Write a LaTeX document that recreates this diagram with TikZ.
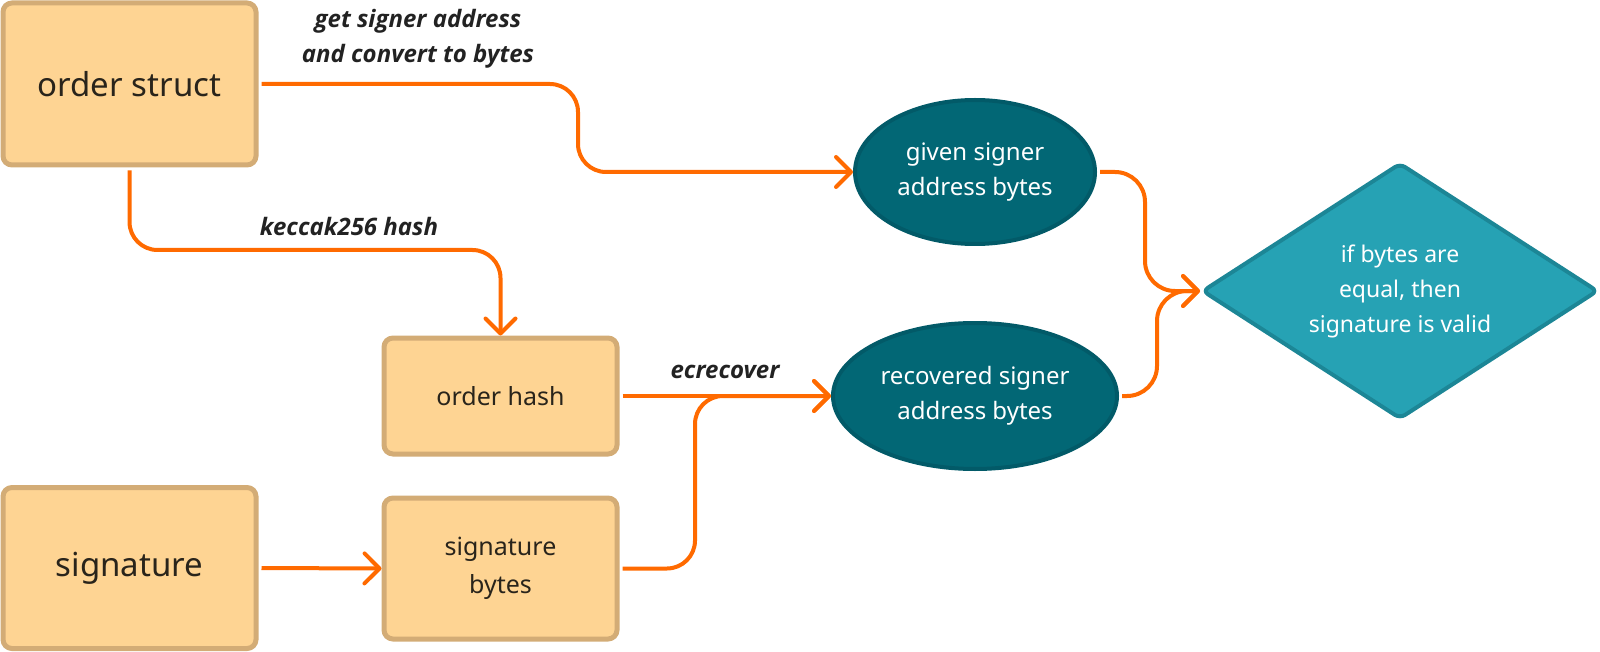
\documentclass[tikz,border=0pt]{standalone}
\usepackage{fontspec}
\setmainfont{Noto Sans}
\newfontfamily\lblfont{Open Sans}
\usetikzlibrary{shapes.geometric,arrows.meta}
\definecolor{boxfill}{HTML}{FED493}
\definecolor{boxline}{HTML}{D3AC76}
\definecolor{boxtext}{HTML}{29241B}
\definecolor{ellfill}{HTML}{026775}
\definecolor{ellline}{HTML}{025A68}
\definecolor{diafill}{HTML}{26A2B4}
\definecolor{dialine}{HTML}{1C8696}
\definecolor{conncol}{HTML}{FF6A00}
\definecolor{lbltext}{HTML}{222222}
\tikzset{
  boxnode/.style={draw=boxline, fill=boxfill, line width=5pt, rounded corners=9pt, text=boxtext, align=center, inner sep=0pt},
  ellnode/.style={ellipse, draw=ellline, fill=ellfill, line width=4pt, text=white, align=center, inner sep=0pt, font=\fontsize{24}{35}\selectfont},
  dianode/.style={diamond, draw=dialine, fill=diafill, line width=4pt, rounded corners=6pt, text=white, align=center, inner sep=0pt, shape aspect=1.55, font=\fontsize{23}{35}\selectfont},
  conn/.style={draw=conncol, line width=4pt, rounded corners=28pt, -{Straight Barb[length=15pt,width=30pt,round]}},
  lbl/.style={text=lbltext, align=center, font=\lblfont\bfseries\itshape\fontsize{24}{35}\selectfont, inner sep=0pt}
}
\begin{document}
\begin{tikzpicture}[x=1pt,y=-1pt]
\useasboundingbox (0,0) rectangle (1600,652);
% boxes
\node[boxnode, minimum width=253pt, minimum height=162pt, font=\fontsize{33}{40}\selectfont] (ostruct) at (129.5,84) {order struct};
\node[boxnode, minimum width=253pt, minimum height=161pt, font=\fontsize{33}{40}\selectfont] (sig) at (129.5,568) {signature};
\node[boxnode, minimum width=233pt, minimum height=116pt, font=\fontsize{25}{38}\selectfont] (ohash) at (500.5,396) {order hash};
\node[boxnode, minimum width=233pt, minimum height=141pt, font=\fontsize{25}{38}\selectfont] (sigbytes) at (500.5,568.5) {signature\\bytes};
% ellipses
\node[ellnode, minimum width=240pt, minimum height=144pt] (given) at (975,172) {given signer\\address bytes};
\node[ellnode, minimum width=284pt, minimum height=146pt] (recovered) at (975,396) {recovered signer\\address bytes};
% diamond
\node[dianode, minimum width=396pt, minimum height=256pt] (dia) at (1400,291) {if bytes are\\equal, then\\signature is valid};
% labels
\node[lbl] (lblget) at (418,39) {get signer address\\and convert to bytes};
\node[lbl] (lblkec) at (349,227) {keccak256 hash};
\node[lbl] (lblecr) at (725,372) {ecrecover};
% connectors
\draw[conn, shorten <=3pt] (ostruct.east) -- (578,84) -- (578,172) -- (given.west);
\draw[conn, shorten <=3pt] (ostruct.south) -- (129.5,250) -- (500.5,250) -- (ohash.north);
\draw[conn, shorten <=3pt] (ohash.east) -- (recovered.west);
\draw[conn, shorten <=3pt] (sigbytes.east) -- (695,568.5) -- (695,396) -- (recovered.west);
\draw[conn, shorten <=3pt] (sig.east) -- (sigbytes.west);
\draw[conn, rounded corners=30pt, shorten <=3pt] (given.east) -- (1145,172) -- (1145,291) -- (dia.west);
\draw[conn, rounded corners=30pt, shorten <=3pt] (recovered.east) -- (1157,396) -- (1157,291) -- (dia.west);
\end{tikzpicture}
\end{document}
